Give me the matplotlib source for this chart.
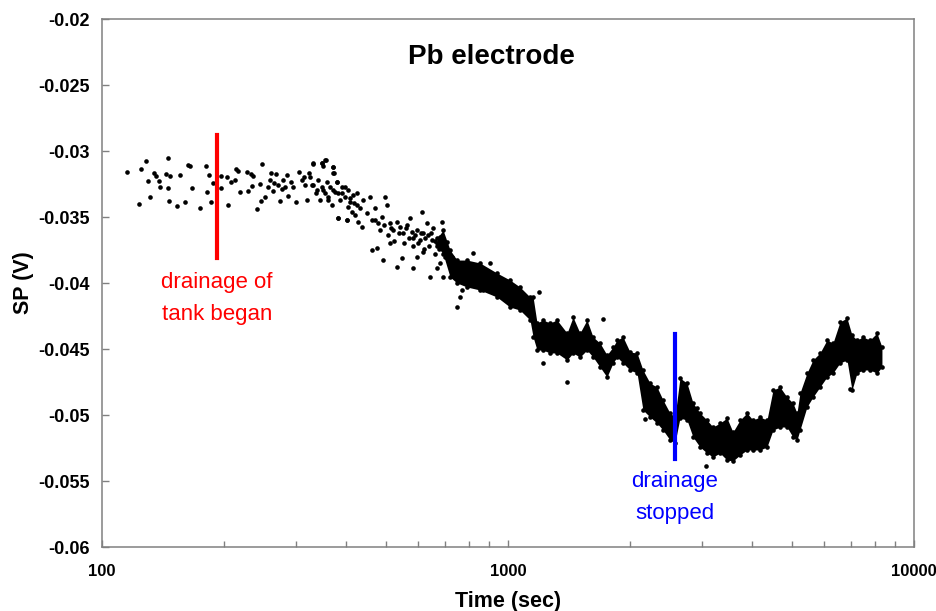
import numpy as np
import matplotlib
matplotlib.use("Agg")
import matplotlib.pyplot as plt
from matplotlib.ticker import FixedLocator, LogLocator, NullFormatter

plt.rcParams['font.family'] = ['Liberation Sans', 'DejaVu Sans']

# Scattered readings (early, sparse part of the record + outliers)
scatter_time = [
    115, 123, 125, 128, 130, 131, 134, 136, 138, 139, 144, 145, 145, 146, 147,
    153, 156, 160, 163, 165, 167, 174, 180, 181, 183, 186, 188, 196, 196, 203,
    204, 208, 213, 214, 216, 219, 228, 229, 233, 234, 235, 241, 245, 248, 246,
    252, 256, 259, 261, 264, 265, 268, 271, 274, 278, 279, 282, 286, 287, 292,
    295, 301, 306, 311, 314, 320, 324, 329, 331, 337, 340, 344, 348, 350, 356,
    358, 360, 364, 369, 371, 371, 375, 379, 381, 386, 390, 397, 401, 404, 408,
    413, 418, 425, 427,
    331, 348, 354, 350, 371, 373, 325, 316, 331, 339, 348, 354, 360, 371, 379,
    381, 390, 397, 404, 408, 415, 425, 432, 439, 381, 401, 420, 437, 449, 457,
    462, 470, 478, 489, 498, 503, 512, 521, 533, 542, 551, 564, 574, 580, 583,
    597, 607, 614, 617, 632, 635, 650, 654, 669, 680, 688, 692, 708, 712, 462,
    476, 492, 512, 533, 548, 583, 597, 617, 642, 669, 680, 692, 728, 732, 749,
    762, 770, 775, 749, 762, 792, 815, 820, 839, 853, 868, 888, 903, 918, 939,
    956, 972, 994, 1011, 1029, 1052, 1058,
    470, 485, 495, 505, 515, 525, 540, 555, 560, 570, 585, 590, 600, 610, 620,
    625, 640, 645, 660, 660, 675, 700, 700, 720,
    1192, 1714, 1220, 1398, 2175, 3074, 2921, 6956,
]
scatter_sp = [
    -0.03159, -0.03401, -0.03136, -0.03076, -0.03227, -0.03348, -0.03167, -0.03189,
    -0.03227, -0.03273, -0.03174, -0.03053, -0.03280, -0.03379, -0.03189, -0.03417,
    -0.03182, -0.03386, -0.03106, -0.03114, -0.03280, -0.03432, -0.03114, -0.03311,
    -0.03182, -0.03386, -0.03242, -0.03189, -0.03280, -0.03197, -0.03409, -0.03235,
    -0.03220, -0.03136, -0.03151, -0.03311, -0.03159, -0.03303, -0.03174, -0.03265,
    -0.03189, -0.03439, -0.03250, -0.03098, -0.03379, -0.03348, -0.03273, -0.03220,
    -0.03167, -0.03303, -0.03242, -0.03174, -0.03258, -0.03379, -0.03288, -0.03220,
    -0.03273, -0.03182, -0.03341, -0.03235, -0.03273, -0.03386, -0.03159, -0.03220,
    -0.03197, -0.03371, -0.03167, -0.03258, -0.03098, -0.03318, -0.03220, -0.03371,
    -0.03091, -0.03295, -0.03068, -0.03235, -0.03348, -0.03273, -0.03409, -0.03121,
    -0.03167, -0.03311, -0.03235, -0.03508, -0.03371, -0.03318, -0.03273, -0.03523,
    -0.03424, -0.03356, -0.03462, -0.03394, -0.03318, -0.03538,
    -0.03091, -0.03091, -0.03068, -0.03114, -0.03121, -0.03167, -0.03197, -0.03258,
    -0.03258, -0.03295, -0.03273, -0.03318, -0.03371, -0.03295, -0.03235, -0.03318,
    -0.03273, -0.03348, -0.03295, -0.03386, -0.03333, -0.03409, -0.03432, -0.03371,
    -0.03508, -0.03523, -0.03485, -0.03576, -0.03470, -0.03348, -0.03523, -0.03432,
    -0.03545, -0.03500, -0.03348, -0.03409, -0.03545, -0.03598, -0.03538, -0.03576,
    -0.03621, -0.03561, -0.03508, -0.03614, -0.03659, -0.03598, -0.03674, -0.03462,
    -0.03621, -0.03545, -0.03636, -0.03674, -0.03583, -0.03697, -0.03651, -0.03538,
    -0.03727, -0.03689, -0.03773, -0.03750, -0.03735, -0.03826, -0.03697, -0.03879,
    -0.03811, -0.03886, -0.03803, -0.03765, -0.03955, -0.03886, -0.03848, -0.03955,
    -0.03803, -0.03879, -0.03955, -0.03902, -0.04053, -0.03977, -0.04182, -0.04106,
    -0.03955, -0.03879, -0.03773, -0.04000, -0.03924, -0.04053, -0.03977, -0.03848,
    -0.04030, -0.03955, -0.04076, -0.04000, -0.04129, -0.04053, -0.04114, -0.04076,
    -0.04152,
    -0.0352, -0.0360, -0.0356, -0.0364, -0.0358, -0.0368, -0.0362, -0.0370,
    -0.0358, -0.0366, -0.0372, -0.0364, -0.0370, -0.0362, -0.0374, -0.0366,
    -0.0372, -0.0362, -0.0378, -0.0368, -0.0374, -0.0380, -0.0372, -0.0384,
    -0.04068, -0.04273, -0.04606, -0.04750, -0.05030, -0.05386, -0.04947, -0.04803,
]

# Dense part of the record: upper / lower edge of the point cloud
band_time = [
    669, 692, 720, 749, 792, 853, 939, 1011, 1070, 1133, 1153, 1179, 1220, 1269,
    1320, 1398, 1446, 1504, 1565, 1620, 1685, 1753, 1814, 1856, 1920, 1998, 2079,
    2150, 2238, 2328, 2409, 2506, 2578, 2652, 2760, 2856, 2971, 3092, 3198, 3328,
    3463, 3582, 3728, 3879, 4013, 4175, 4344, 4495, 4677, 4866, 5034, 5150, 5238,
    5450, 5639, 5868, 6105, 6317, 6572, 6839, 7036, 7238, 7488, 7791, 8107, 8340,
]
band_upper = [
    -0.03660, -0.03600, -0.03750, -0.03826, -0.03826, -0.03848, -0.03924, -0.03977,
    -0.04030, -0.04106, -0.04106, -0.04303, -0.04280, -0.04303, -0.04280, -0.04379,
    -0.04258, -0.04379, -0.04280, -0.04409, -0.04455, -0.04545, -0.04485, -0.04432,
    -0.04409, -0.04523, -0.04530, -0.04659, -0.04758, -0.04788, -0.04886, -0.04985,
    -0.05015, -0.04720, -0.04758, -0.04909, -0.04985, -0.05038, -0.05091, -0.05061,
    -0.05023, -0.05129, -0.05038, -0.04985, -0.05038, -0.05015, -0.05038, -0.04811,
    -0.04788, -0.04864, -0.04909, -0.04985, -0.04833, -0.04682, -0.04583, -0.04530,
    -0.04432, -0.04455, -0.04295, -0.04265, -0.04394, -0.04432, -0.04409, -0.04432,
    -0.04379, -0.04485,
]
band_lower = [
    -0.03720, -0.03780, -0.03955, -0.04000, -0.04030, -0.04053, -0.04106, -0.04182,
    -0.04205, -0.04280, -0.04409, -0.04508, -0.04508, -0.04530, -0.04530, -0.04583,
    -0.04530, -0.04561, -0.04508, -0.04561, -0.04636, -0.04712, -0.04606, -0.04561,
    -0.04606, -0.04659, -0.04682, -0.04962, -0.05015, -0.05061, -0.05114, -0.05189,
    -0.05212, -0.05023, -0.05038, -0.05167, -0.05242, -0.05288, -0.05318, -0.05288,
    -0.05341, -0.05348, -0.05303, -0.05265, -0.05265, -0.05265, -0.05242, -0.05114,
    -0.05091, -0.05091, -0.05167, -0.05189, -0.05114, -0.04939, -0.04864, -0.04788,
    -0.04712, -0.04682, -0.04606, -0.04583, -0.04811, -0.04682, -0.04659, -0.04659,
    -0.04682, -0.04636,
]

# event markers
drain_start_t = 192
drain_start_sp = [-0.0288, -0.0381]
drain_stop_t = 2578
drain_stop_sp = [-0.0439, -0.0533]

y_ticks = [-0.06, -0.055, -0.05, -0.045, -0.04, -0.035, -0.03, -0.025, -0.02]
y_tick_labels = ['-0.06', '-0.055', '-0.05', '-0.045', '-0.04', '-0.035', '-0.03', '-0.025', '-0.02']
x_ticks = [100, 1000, 10000]
x_tick_labels = ['100', '1000', '10000']

axis_grey = '#808080'

fig = plt.figure(figsize=(9.37, 6.11), dpi=100)
ax = fig.add_axes([0.1089, 0.1047, 0.8665, 0.8642])

# point cloud
ax.fill_between(band_time, band_upper, band_lower, color='black', linewidth=0, zorder=2)
ax.scatter(band_time, band_upper, s=11, color='black', linewidths=0, zorder=2)
ax.scatter(band_time, band_lower, s=11, color='black', linewidths=0, zorder=2)
ax.scatter(scatter_time, scatter_sp, s=11, color='black', linewidths=0, zorder=2)

# drainage markers
ax.plot([drain_start_t, drain_start_t], drain_start_sp, color='#ff0000', lw=3, zorder=3)
ax.plot([drain_stop_t, drain_stop_t], drain_stop_sp, color='#0000ff', lw=3, zorder=3)

ax.text(drain_start_t, -0.04038, 'drainage of', color='#ff0000', fontsize=16, ha='center', va='baseline')
ax.text(drain_start_t, -0.04280, 'tank began', color='#ff0000', fontsize=16, ha='center', va='baseline')
ax.text(drain_stop_t, -0.05545, 'drainage', color='#0000ff', fontsize=16, ha='center', va='baseline')
ax.text(drain_stop_t, -0.05788, 'stopped', color='#0000ff', fontsize=16, ha='center', va='baseline')

ax.text(0.480, 0.9148, 'Pb electrode', transform=ax.transAxes, fontsize=20,
        fontweight='bold', ha='center', va='baseline')

ax.set_xscale('log')
ax.set_xlim(100, 10000)
ax.set_ylim(-0.06, -0.02)

ax.xaxis.set_major_locator(FixedLocator(x_ticks))
ax.set_xticklabels(x_tick_labels)
ax.xaxis.set_minor_locator(LogLocator(base=10, subs=np.arange(2, 10)))
ax.xaxis.set_minor_formatter(NullFormatter())
ax.set_yticks(y_ticks)
ax.set_yticklabels(y_tick_labels)

for lbl in ax.get_xticklabels():
    lbl.set_fontweight('bold')
    lbl.set_fontsize(12)
for lbl in ax.get_yticklabels():
    lbl.set_fontweight('bold')
    lbl.set_fontsize(13)

ax.tick_params(axis='both', which='both', direction='in', color=axis_grey, width=1)
ax.tick_params(axis='y', which='major', length=5, pad=9)
ax.tick_params(axis='x', which='major', length=5, pad=12)
ax.tick_params(axis='x', which='minor', length=4)

for sp in ax.spines.values():
    sp.set_color(axis_grey)
    sp.set_linewidth(1.1)

ax.set_xlabel('Time (sec)', fontsize=15.5, fontweight='bold', labelpad=9)
ax.set_ylabel('SP (V)', fontsize=15.5, fontweight='bold', labelpad=3)

fig.savefig('out.png', dpi=100)
